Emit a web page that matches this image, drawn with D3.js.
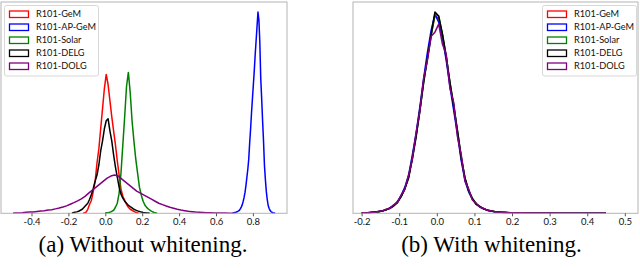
<!DOCTYPE html>
<html>
<head>
<meta charset="utf-8">
<script src="https://d3js.org/d3.v7.min.js"></script>
<style>
  body { margin: 0; background: #fff; }
  svg { display: block; }
</style>
</head>
<body>
<script>
// ---- data ----
const seriesNames = ["R101-GeM", "R101-AP-GeM", "R101-Solar", "R101-DELG", "R101-DOLG"];
const seriesColors = ["#ff0000", "#0000ff", "#008000", "#000000", "#800080"];

// (a) without whitening: first bin edge, bin width, bin heights
const leftStart = [-0.12, 0.69, 0.0, -0.18, -0.5];
const leftWidth = [0.01, 0.005, 0.01, 0.01, 0.02];
const gemLeft = [0.1, 0.5, 2, 4.5, 6.5, 11, 16, 25, 32, 42, 52, 62, 69, 64, 56, 48, 41, 34, 26, 19,
  12, 8.5, 6.5, 4.5, 3, 2, 1.5, 1, 0.5, 0.2];
const apgemLeft = [0.2, 0.3, 0.4, 0.5, 0.7, 0.9, 1.2, 1.6, 2.3, 3.2, 4.3, 6, 8, 10.5, 14, 18, 22, 27, 35, 42,
  50, 57, 64, 71, 79, 86, 93, 100, 96, 85, 67, 57, 46, 36, 24, 17, 11, 7, 4, 2.5,
  1.5, 0.9, 0.5, 0.3, 0.2, 0.1];
const solarLeft = [0.3, 0.3, 0.5, 1, 1.5, 3, 5, 10, 20, 34, 48, 63, 70, 60, 46, 36, 27, 20, 13, 9,
  6, 4, 2.8, 2, 1.3, 0.8, 0.4, 0.2];
const delgLeft = [0.3, 0.5, 0.7, 1, 1.5, 2, 3, 4, 5, 7, 9.5, 12.5, 16, 19, 24, 31, 36, 42, 46, 47,
  41, 36, 29, 23, 18, 13, 9.5, 7.5, 6, 5, 4, 3.3, 2.7, 2, 1.6, 1.2, 0.9, 0.6, 0.4, 0.3,
  0.2, 0.1];
const dolgLeft = [0.2, 0.2, 0.3, 0.5, 0.6, 0.7, 0.9, 1.1, 1.3, 1.6, 1.8, 2.2, 2.6, 3.1, 3.7, 4.5, 5.3, 6.2, 7.2, 8.4,
  10, 11.5, 13, 14.5, 16, 17.5, 18.5, 19, 18.5, 17, 15.5, 14, 12.5, 11, 10, 9, 8, 7, 6, 5,
  4.3, 3.6, 3, 2.5, 2, 1.6, 1.3, 1, 0.8, 0.6, 0.5, 0.4, 0.3, 0.25, 0.2, 0.15, 0.1, 0.1, 0.05, 0.05];
const leftTicks = [-0.4, -0.2, 0.0, 0.2, 0.4, 0.6, 0.8];

// (b) with whitening: bins of 0.01 from -0.2 to 0.45
const rightStart = -0.2;
const rightWidth = 0.01;
const gemRight = [0.2, 0.3, 0.4, 0.6, 0.8, 1.2, 1.8, 2.6, 3.8, 5.5,
  8.5, 12.5, 18, 28, 39, 52, 66, 78, 89, 98,
  97, 88, 77, 64, 53, 40, 27, 17, 11, 7,
  4.5, 3.2, 2.2, 1.5, 1.1, 0.8, 0.6, 0.45, 0.35, 0.3,
  0.25, 0.2, 0.2, 0.18, 0.15, 0.15, 0.12, 0.12, 0.1, 0.1,
  0.1, 0.08, 0.08, 0.07, 0.07, 0.06, 0.06, 0.05, 0.05, 0.05,
  0.04, 0.04, 0.03, 0.03, 0.02];
const apgemRight = [0.1, 0.3, 0.5, 0.6, 0.9, 1.3, 1.7, 2.7, 3.9, 5.8,
  8.8, 13, 19, 29, 40, 53, 67, 80, 91, 99,
  95, 87, 76, 63, 51, 39, 26, 16, 10.5, 6.8,
  4.4, 3.1, 2.1, 1.5, 1.0, 0.8, 0.6, 0.5, 0.4, 0.3,
  0.25, 0.2, 0.18, 0.17, 0.15, 0.13, 0.12, 0.11, 0.1, 0.1,
  0.09, 0.08, 0.07, 0.07, 0.06, 0.06, 0.05, 0.05, 0.04, 0.04,
  0.04, 0.03, 0.03, 0.02, 0.02];
const solarRight = [0.2, 0.3, 0.4, 0.5, 0.8, 1.1, 1.8, 2.5, 3.6, 5.4,
  8.2, 12, 18, 27.5, 38.5, 51, 65, 77, 88, 99,
  98, 89, 78, 65, 54, 41, 28, 17.5, 11, 7.2,
  4.6, 3.3, 2.3, 1.6, 1.1, 0.8, 0.6, 0.5, 0.4, 0.3,
  0.25, 0.22, 0.2, 0.18, 0.16, 0.14, 0.12, 0.11, 0.1, 0.1,
  0.09, 0.08, 0.08, 0.07, 0.06, 0.06, 0.05, 0.05, 0.05, 0.04,
  0.04, 0.03, 0.03, 0.02, 0.02];
const delgRight = [0.2, 0.3, 0.4, 0.6, 0.8, 1.1, 1.7, 2.5, 3.6, 5.3,
  8.3, 12.2, 17.5, 27, 38, 51, 65, 77, 89, 100,
  98, 89, 78, 65, 53, 41, 27.5, 17.5, 11.2, 7.2,
  4.6, 3.3, 2.2, 1.5, 1.1, 0.8, 0.6, 0.45, 0.35, 0.3,
  0.25, 0.2, 0.2, 0.17, 0.15, 0.14, 0.12, 0.11, 0.1, 0.1,
  0.09, 0.08, 0.07, 0.07, 0.06, 0.06, 0.05, 0.05, 0.05, 0.04,
  0.04, 0.03, 0.03, 0.02, 0.02];
const dolgRight = [0.3, 0.2, 0.5, 0.5, 1.0, 1.1, 2.0, 2.4, 4.2, 5.2,
  9, 12, 19, 27, 40, 51, 67, 76, 88, 90,
  94, 84, 79, 62, 55, 38, 29, 16, 12, 6.5,
  5, 3, 2.4, 1.4, 1.2, 0.7, 0.7, 0.4, 0.4, 0.25,
  0.3, 0.2, 0.22, 0.15, 0.17, 0.12, 0.14, 0.1, 0.11, 0.09,
  0.1, 0.07, 0.09, 0.06, 0.07, 0.05, 0.06, 0.04, 0.05, 0.04,
  0.04, 0.03, 0.03, 0.02, 0.02];
const rightTicks = [-0.2, -0.1, 0.0, 0.1, 0.2, 0.3, 0.4, 0.5];

const titles = ["(a) Without whitening.", "(b) With whitening."];

// ---- drawing ----
const svg = d3.select("body").append("svg")
    .attr("width", 640)
    .attr("height", 268);

const fmt = d => d3.format(".1f")(d).replace("\u2212", "-");

// outline through the bin centres, dropping to zero at the outer edges
function histPoints(start, width, values) {
    let pts = [[start, 0]];
    values.forEach((v, i) => pts.push([start + (i + 0.5) * width, v]));
    pts.push([start + values.length * width, 0]);
    return pts;
}

function panel(opts) {
    let x = d3.scaleLinear().domain(opts.xDomain).range([opts.x0, opts.x1]);
    let y = d3.scaleLinear().domain([0, 105]).range([213.3, 2]);
    let g = svg.append("g");

    let line = d3.line().x(d => x(d[0])).y(d => y(d[1]));

    opts.series.forEach((s, i) => {
        g.append("path")
            .attr("d", line(histPoints(s.start, s.width, s.values)))
            .attr("fill", "none")
            .attr("stroke", seriesColors[i])
            .attr("stroke-width", 1.5)
            .attr("stroke-linejoin", "round");
    });

    // frame
    g.append("rect")
        .attr("x", opts.x0)
        .attr("y", 2)
        .attr("width", opts.x1 - opts.x0)
        .attr("height", 211.3)
        .attr("fill", "none")
        .attr("stroke", "#b4b4b4")
        .attr("stroke-width", 1);

    let ax = g.append("g")
        .attr("transform", "translate(0,213.3)")
        .call(d3.axisBottom(x).tickValues(opts.ticks).tickFormat(fmt).tickSize(3).tickPadding(2));
    ax.select(".domain").remove();
    ax.selectAll(".tick line").attr("stroke", "#555");
    ax.selectAll(".tick text")
        .attr("fill", "#111")
        .style("font-family", "Lato, sans-serif")
        .style("font-size", "9.5px");

    // legend
    let lg = g.append("g").attr("transform", `translate(${opts.legendX},5.5)`);
    lg.append("rect")
        .attr("width", 94)
        .attr("height", 70.5)
        .attr("rx", 2)
        .attr("fill", "#fff")
        .attr("fill-opacity", 0.8)
        .attr("stroke", "#d8d8d8")
        .attr("stroke-width", 1);
    seriesNames.forEach((name, i) => {
        let row = lg.append("g").attr("transform", `translate(0,${8.5 + i * 13})`);
        row.append("rect")
            .attr("x", 5)
            .attr("y", -3)
            .attr("width", 19)
            .attr("height", 6.5)
            .attr("fill", "none")
            .attr("stroke", seriesColors[i])
            .attr("stroke-width", 1.3);
        row.append("text")
            .attr("x", 31.5)
            .attr("y", 3.3)
            .attr("fill", "#111")
            .style("font-family", "Lato, sans-serif")
            .style("font-size", "9.2px")
            .text(name);
    });

    svg.append("text")
        .attr("x", opts.titleX)
        .attr("y", 252)
        .attr("text-anchor", "middle")
        .style("font-family", "'Liberation Serif', serif")
        .style("font-size", "23px")
        .text(opts.title);
}

panel({
    x0: 1, x1: 287,
    xDomain: [-0.5653, 0.9848],
    ticks: leftTicks,
    legendX: 4.5,
    titleX: 143,
    title: titles[0],
    series: [
        { start: leftStart[0], width: leftWidth[0], values: gemLeft },
        { start: leftStart[1], width: leftWidth[1], values: apgemLeft },
        { start: leftStart[2], width: leftWidth[2], values: solarLeft },
        { start: leftStart[3], width: leftWidth[3], values: delgLeft },
        { start: leftStart[4], width: leftWidth[4], values: dolgLeft }
    ]
});

panel({
    x0: 353, x1: 638,
    xDomain: [-0.2229, 0.535],
    ticks: rightTicks,
    legendX: 542.5,
    titleX: 491.5,
    title: titles[1],
    series: [
        { start: rightStart, width: rightWidth, values: gemRight },
        { start: rightStart, width: rightWidth, values: apgemRight },
        { start: rightStart, width: rightWidth, values: solarRight },
        { start: rightStart, width: rightWidth, values: delgRight },
        { start: rightStart, width: rightWidth, values: dolgRight }
    ]
});
</script>
</body>
</html>
